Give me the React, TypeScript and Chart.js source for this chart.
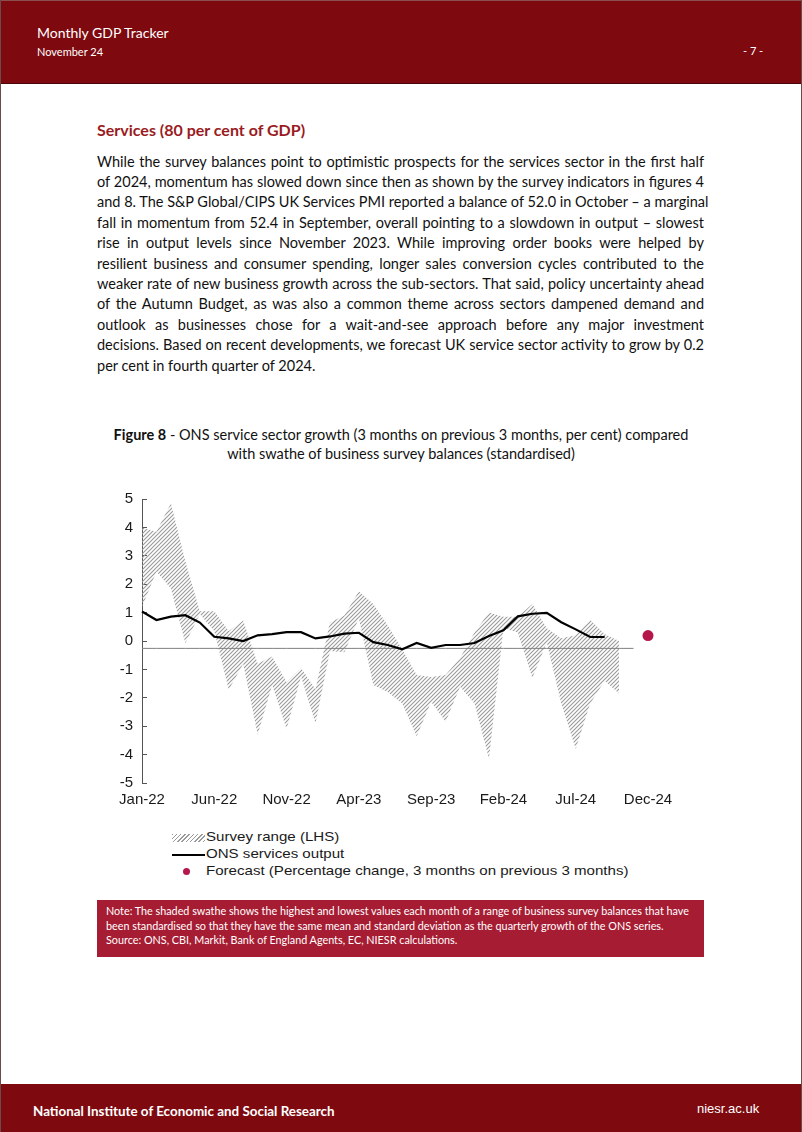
import React, { useEffect, useRef } from "react";
import { Chart, registerables } from "chart.js";

Chart.register(...registerables);

// ---------- data ----------
const months = [
  "Jan-22", "Feb-22", "Mar-22", "Apr-22", "May-22", "Jun-22", "Jul-22", "Aug-22", "Sep-22", "Oct-22", "Nov-22", "Dec-22",
  "Jan-23", "Feb-23", "Mar-23", "Apr-23", "May-23", "Jun-23", "Jul-23", "Aug-23", "Sep-23", "Oct-23", "Nov-23", "Dec-23",
  "Jan-24", "Feb-24", "Mar-24", "Apr-24", "May-24", "Jun-24", "Jul-24", "Aug-24", "Sep-24", "Oct-24", "Nov-24", "Dec-24",
];

const surveyHigh = [
  4.0, 3.85, 4.85, 2.8, 1.05, 1.05, 0.35, 0.72, -0.8, -0.55, -1.45, -0.95,
  -1.7, 0.65, 0.9, 1.75, 1.3, 0.55, -0.3, -1.2, -1.27, -1.2, -0.6, 0.3,
  1.0, 0.85, 0.85, 1.3, 0.45, 0.1, 0.2, 0.75, 0.25, 0.0, null, null,
];
const surveyLow = [
  1.2, 2.45, 1.85, -0.08, 0.95, 0.35, -1.72, -0.8, -3.3, -1.55, -3.1, -1.25,
  -2.9, -0.35, -0.4, 0.8, -1.55, -1.8, -2.2, -3.35, -2.14, -2.84, -1.61, -2.2,
  -4.15, 0.45, 0.3, -1.3, -0.05, -2.2, -3.8, -2.2, -1.4, -1.85, null, null,
];
const onsOutput = [
  1.04, 0.74, 0.86, 0.91, 0.65, 0.15, 0.09, 0.0, 0.2, 0.24, 0.31, 0.31,
  0.09, 0.16, 0.26, 0.29, -0.04, -0.14, -0.29, -0.07, -0.24, -0.14, -0.14, -0.07,
  0.18, 0.38, 0.87, 0.96, 0.99, 0.66, 0.41, 0.14, 0.14, null, null, null,
];
const forecast = [
  null, null, null, null, null, null, null, null, null, null, null, null,
  null, null, null, null, null, null, null, null, null, null, null, null,
  null, null, null, null, null, null, null, null, null, null, null, 0.19,
];
const referenceLevel = -0.26;
const referenceLastIndex = 34;
const yTicks = [5, 4, 3, 2, 1, 0, -1, -2, -3, -4, -5];

const bodyLines = [
  "While the survey balances point to optimistic prospects for the services sector in the first half",
  "of 2024, momentum has slowed down since then as shown by the survey indicators in figures 4",
  "and 8. The S&P Global/CIPS UK Services PMI reported a balance of 52.0 in October – a marginal",
  "fall in momentum from 52.4 in September, overall pointing to a slowdown in output – slowest",
  "rise in output levels since November 2023. While improving order books were helped by",
  "resilient business and consumer spending, longer sales conversion cycles contributed to the",
  "weaker rate of new business growth across the sub-sectors. That said, policy uncertainty ahead",
  "of the Autumn Budget, as was also a common theme across sectors dampened demand and",
  "outlook as businesses chose for a wait-and-see approach before any major investment",
  "decisions. Based on recent developments, we forecast UK service sector activity to grow by 0.2",
  "per cent in fourth quarter of 2024.",
];

const noteLines = [
  "Note: The shaded swathe shows the highest and lowest values each month of a range of business survey balances that have",
  "been standardised so that they have the same mean and standard deviation as the quarterly growth of the ONS series.",
  "Source: ONS, CBI, Markit, Bank of England Agents, EC, NIESR calculations.",
];

const legendLabels = [
  "Survey range (LHS)",
  "ONS services output",
  "Forecast (Percentage change, 3 months on previous 3 months)",
];

const RED = "#7e0a10";
const NOTE_RED = "#a61d33";
const DOT = "#b5174a";
const HATCH = "#9a9a9a";
const AXIS_FONT = "'Liberation Sans', Arial, sans-serif";

function makeHatch(): CanvasPattern | string {
  const p = document.createElement("canvas");
  p.width = 4;
  p.height = 4;
  const c = p.getContext("2d");
  if (!c) return "#bbb";
  c.strokeStyle = HATCH;
  c.lineWidth = 1.1;
  c.beginPath();
  c.moveTo(0, 4);
  c.lineTo(4, 0);
  c.moveTo(-1, 1);
  c.lineTo(1, -1);
  c.moveTo(3, 5);
  c.lineTo(5, 3);
  c.stroke();
  const pat = c.createPattern(p, "repeat");
  return pat || "#bbb";
}

function ChartBox() {
  const ref = useRef<HTMLCanvasElement | null>(null);
  useEffect(() => {
    if (!ref.current) return;
    const hatch = makeHatch();
    const refData = months.map((_, i) => (i <= referenceLastIndex ? referenceLevel : null));
    const chart = new Chart(ref.current, {
      type: "line",
      data: {
        labels: months,
        datasets: [
          {
            label: "Survey high",
            data: surveyHigh,
            borderWidth: 0,
            borderColor: "rgba(0,0,0,0)",
            pointRadius: 0,
            backgroundColor: hatch as any,
            fill: "+1",
            order: 5,
            tension: 0,
          },
          {
            label: "Survey low",
            data: surveyLow,
            borderWidth: 0,
            borderColor: "rgba(0,0,0,0)",
            pointRadius: 0,
            fill: false,
            order: 4,
            tension: 0,
          },
          {
            label: "Reference",
            data: refData,
            borderColor: "#808080",
            borderWidth: 1,
            pointRadius: 0,
            fill: false,
            order: 3,
          },
          {
            label: "ONS services output",
            data: onsOutput,
            borderColor: "#000",
            borderWidth: 2.2,
            pointRadius: 0,
            fill: false,
            order: 1,
            tension: 0,
          },
          {
            label: "Forecast",
            data: forecast,
            showLine: false,
            pointRadius: 5.5,
            pointBackgroundColor: DOT,
            pointBorderColor: DOT,
            borderWidth: 0,
            clip: false as any,
            order: 0,
          },
        ],
      },
      options: {
        animation: false,
        responsive: false,
        maintainAspectRatio: false,
        events: [],
        layout: { padding: { left: 0, right: 40, top: 14, bottom: 0 } },
        plugins: { legend: { display: false }, tooltip: { enabled: false } },
        scales: {
          x: {
            type: "category",
            offset: false,
            grid: { display: false, drawTicks: false },
            border: { display: false },
            ticks: {
              autoSkip: false,
              maxRotation: 0,
              minRotation: 0,
              padding: 8,
              color: "#1a1a1a",
              font: { family: AXIS_FONT, size: 15 },
              callback: (_v: any, i: number) => (i % 5 === 0 ? months[i] : ""),
            },
            afterFit: (s: any) => {
              s.height = 30;
              s.paddingLeft = 0;
              s.paddingRight = 0;
            },
          },
          y: {
            min: -5,
            max: 5,
            afterBuildTicks: (s: any) => {
              s.ticks = yTicks.map((v) => ({ value: v }));
            },
            ticks: {
              padding: 14,
              color: "#1a1a1a",
              font: { family: AXIS_FONT, size: 15 },
              callback: (v: any) => String(v),
            },
            grid: { drawOnChartArea: false, drawTicks: true, tickLength: -5, color: "#555" },
            border: { display: true, color: "#555", width: 1 },
            afterFit: (s: any) => {
              s.width = 43;
              s.paddingTop = 0;
              s.paddingBottom = 0;
            },
          },
        },
      },
    } as any);
    return () => chart.destroy();
  }, []);
  return (
    <canvas
      ref={ref}
      width={589}
      height={328}
      style={{ position: "absolute", left: 99, top: 485, width: 589, height: 328 }}
    />
  );
}

function Txt(props: {
  x: number;
  cy: number;
  size: number;
  children: React.ReactNode;
  color?: string;
  weight?: number;
  family?: string;
  width?: number;
  align?: "left" | "center" | "right" | "justify";
}) {
  const lh = Math.round(props.size * 1.3);
  const style: React.CSSProperties = {
    position: "absolute",
    left: props.x,
    top: props.cy - lh / 2,
    fontSize: props.size,
    lineHeight: lh + "px",
    color: props.color || "#000",
    fontWeight: props.weight || 400,
    fontFamily: props.family || "Lato, sans-serif",
    whiteSpace: "nowrap",
  };
  if (props.width !== undefined) {
    style.width = props.width;
    style.textAlign = props.align || "left";
    if (props.align === "justify") {
      (style as any).textAlignLast = "justify";
    }
  }
  return <div style={style}>{props.children}</div>;
}

export default function App() {
  return (
    <div
      style={{
        position: "relative",
        width: 802,
        height: 1132,
        background: "#fff",
        overflow: "hidden",
        fontFamily: "Lato, sans-serif",
      }}
    >
      <style>{`body{margin:0;}`}</style>
      {/* header */}
      <div style={{ position: "absolute", left: 0, top: 0, width: 802, height: 84, background: RED, borderBottom: "1px solid #4a0508", borderTop: "1px solid #8a5050", boxSizing: "border-box" }} />
      <Txt x={37} cy={33} size={14} color="#fff">Monthly GDP Tracker</Txt>
      <Txt x={37} cy={52} size={11} color="#fff">November 24</Txt>
      <Txt x={743} cy={51} size={11} color="#fff">- 7 -</Txt>

      {/* title & body */}
      <Txt x={97} cy={129} size={16} weight={700} color="#9a1b22">Services (80 per cent of GDP)</Txt>
      {bodyLines.map((l, i) => (
        <Txt key={i} x={97} cy={161 + 20.4 * i} size={14.5} width={607} align={i < bodyLines.length - 1 ? "justify" : "left"} color="#111">
          {l}
        </Txt>
      ))}

      {/* caption */}
      <Txt x={0} cy={434} size={14.5} width={802} align="center" color="#111">
        <b>Figure 8</b> - ONS service sector growth (3 months on previous 3 months, per cent) compared
      </Txt>
      <Txt x={0} cy={453} size={14.5} width={802} align="center" color="#111">
        with swathe of business survey balances (standardised)
      </Txt>

      <ChartBox />

      {/* legend */}
      <div
        style={{
          position: "absolute",
          left: 172,
          top: 834,
          width: 33,
          height: 8,
          background: `repeating-linear-gradient(135deg, ${HATCH} 0px, ${HATCH} 1px, transparent 1px, transparent 3px)`,
        }}
      />
      <div style={{ position: "absolute", left: 172, top: 854, width: 33, height: 2, background: "#000" }} />
      <div style={{ position: "absolute", left: 183, top: 868, width: 7, height: 7, borderRadius: 4, background: DOT }} />
      {legendLabels.map((t, i) => (
        <div
          key={i}
          style={{
            position: "absolute",
            left: 206,
            top: 837 + 17 * i - 8,
            fontSize: 13,
            lineHeight: "16px",
            fontFamily: AXIS_FONT,
            color: "#1a1a1a",
            whiteSpace: "nowrap",
            transform: "scaleX(1.16)",
            transformOrigin: "left center",
          }}
        >
          {t}
        </div>
      ))}

      {/* note box */}
      <div style={{ position: "absolute", left: 97, top: 900, width: 607, height: 57, background: NOTE_RED }} />
      {noteLines.map((l, i) => (
        <Txt key={i} x={106} cy={911 + 14.5 * i} size={10.8} color="#fff">
          {l}
        </Txt>
      ))}

      {/* footer */}
      <div style={{ position: "absolute", left: 0, top: 1084, width: 802, height: 48, background: RED }} />
      <Txt x={33} cy={1111} size={13.4} weight={700} color="#fff">
        National Institute of Economic and Social Research
      </Txt>
      <Txt x={697} cy={1108} size={13} color="#fff" family={AXIS_FONT}>
        niesr.ac.uk
      </Txt>

      {/* page side rules */}
      <div style={{ position: "absolute", left: 0, top: 0, width: 1, height: 1132, background: "#6b4a4a" }} />
      <div style={{ position: "absolute", left: 801, top: 0, width: 1, height: 1132, background: "#6b4a4a" }} />
    </div>
  );
}
